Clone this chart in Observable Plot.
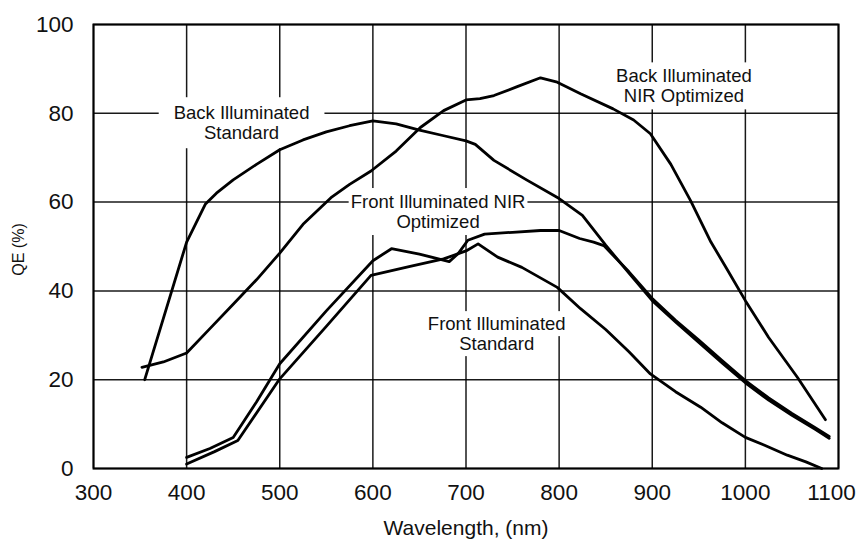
<!DOCTYPE html>
<html>
<head>
<meta charset="utf-8">
<script src="https://cdn.jsdelivr.net/npm/d3@7"></script>
<script src="https://cdn.jsdelivr.net/npm/@observablehq/plot@0.6"></script>
<style>
  html, body { margin: 0; padding: 0; background: #fff; }
</style>
</head>
<body>
<div id="chart"></div>
<script>
// Axis ticks
const xTicks = [300, 400, 500, 600, 700, 800, 900, 1000, 1100];
const yTicks = [0, 20, 40, 60, 80, 100];

// Quantum efficiency curves: wavelength (nm) and QE (%)
const backStdNm = [355, 400, 420, 432, 450, 475, 500, 525, 550, 575, 600, 625, 650, 675, 700, 710, 730, 765, 800, 825, 850, 875, 900, 925, 950, 975, 1000, 1025, 1050, 1075, 1090];
const backStdQE = [20, 51, 59.5, 62, 65, 68.5, 71.8, 74, 75.8, 77.2, 78.3, 77.6, 76.2, 75, 73.8, 73, 69.4, 65, 60.8, 57, 50.3, 44, 37.8, 33, 28.4, 23.8, 19.3, 15.4, 12, 8.8, 6.8];

const backNirNm = [352, 375, 400, 425, 450, 475, 500, 525, 555, 575, 598, 625, 651, 676, 700, 715, 730, 755, 780, 798, 823, 858, 880, 898, 920, 941, 963, 980, 1000, 1025, 1056, 1086];
const backNirQE = [22.8, 24, 26, 31.5, 37, 42.5, 48.5, 55, 61, 64, 67, 71.5, 76.8, 80.6, 83, 83.3, 84, 86, 88, 87, 84.4, 81, 78.5, 75.4, 68.5, 60.4, 51, 45, 37.8, 29.5, 20.5, 11];

const frontNirNm = [400, 425, 450, 475, 500, 550, 600, 620, 650, 682, 692, 702, 720, 750, 780, 800, 822, 837, 848, 875, 900, 925, 950, 975, 1000, 1025, 1050, 1075, 1090];
const frontNirQE = [2.5, 4.5, 7, 15, 23.6, 35.5, 46.8, 49.5, 48.3, 46.6, 48.5, 51.4, 52.8, 53.2, 53.6, 53.6, 51.8, 51, 50.2, 44.3, 38.3, 33.4, 28.9, 24.3, 19.8, 15.9, 12.4, 9.2, 7.2];

const frontStdNm = [400, 430, 455, 500, 550, 598, 640, 676, 700, 713, 734, 760, 798, 823, 850, 875, 898, 925, 952, 975, 1000, 1020, 1045, 1065, 1082];
const frontStdQE = [1, 3.8, 6.3, 20.2, 32, 43.5, 45.5, 47.2, 49, 50.6, 47.6, 45.3, 40.8, 36, 31.3, 26.3, 21.3, 17.3, 13.8, 10.3, 7, 5.3, 3, 1.5, 0];

// Curve labels, anchored at the centre of their first line
const labelText = ["Back Illuminated\nStandard", "Front Illuminated NIR\nOptimized", "Back Illuminated\nNIR Optimized", "Front Illuminated\nStandard"];
const labelX = [459, 670, 934, 733];
const labelY = [80, 60, 88.3, 32.5];

const series = [
  {name: "Back Illuminated Standard", nm: backStdNm, qe: backStdQE},
  {name: "Back Illuminated NIR Optimized", nm: backNirNm, qe: backNirQE},
  {name: "Front Illuminated NIR Optimized", nm: frontNirNm, qe: frontNirQE},
  {name: "Front Illuminated Standard", nm: frontStdNm, qe: frontStdQE}
];
const rows = series.flatMap(s => s.nm.map((x, i) => ({series: s.name, nm: x, qe: s.qe[i]})));

const labelRows = labelText.flatMap((t, i) =>
  t.split("\n").map((line, j) => ({label: i, line: j, text: line, nm: labelX[i], qe: labelY[i]})));
const firstLines = labelRows.filter(d => d.line === 0);
const secondLines = labelRows.filter(d => d.line === 1);

const FONT = "'Liberation Sans', Arial, Helvetica, sans-serif";
const labelStyle = {x: "nm", y: "qe", text: "text", fontSize: 18.5, fontFamily: FONT,
  fill: "#111", textAnchor: "middle", lineAnchor: "middle"};
const tickStyle = {tickSize: 0, fontSize: 22.5, label: null, fill: "#111", tickFormat: d => String(d)};
const lastX = xTicks[xTicks.length - 1];

const chart = Plot.plot({
  width: 862,
  height: 542,
  marginLeft: 93,
  marginRight: 24,
  marginTop: 24,
  marginBottom: 74,
  style: {fontFamily: FONT, fontSize: "22px", color: "#000", background: "#fff"},
  x: {domain: [300, 1100]},
  y: {domain: [0, 100]},
  marks: [
    Plot.gridX(xTicks, {stroke: "#000", strokeOpacity: 0.9, strokeWidth: 1.5}),
    Plot.gridY(yTicks, {stroke: "#000", strokeOpacity: 0.9, strokeWidth: 1.5}),
    Plot.frame({stroke: "#000", strokeWidth: 2}),
    Plot.axisX(xTicks.filter(d => d !== lastX), {...tickStyle, tickPadding: 16}),
    Plot.axisX([lastX], {...tickStyle, tickPadding: 16, dx: -7}),
    Plot.axisY(yTicks, {...tickStyle, tickPadding: 20}),
    Plot.text(["Wavelength, (nm)"], {text: d => d, frameAnchor: "bottom", dy: 60,
      textAnchor: "middle", lineAnchor: "middle", fontSize: 21, fill: "#111"}),
    Plot.text(["QE (%)"], {text: d => d, frameAnchor: "left", dx: -75, dy: 3, rotate: -90,
      textAnchor: "middle", lineAnchor: "middle", fontSize: 16, fill: "#111"}),
    Plot.line(rows, {x: "nm", y: "qe", z: "series", stroke: "#000", strokeWidth: 2.8,
      strokeLinejoin: "round", strokeLinecap: "round"}),
    Plot.text(firstLines, labelStyle),
    Plot.text(secondLines, {...labelStyle, dy: 20})
  ]
});

document.getElementById("chart").append(chart);

// White backing boxes behind the curve labels (interrupting the grid).
// Label texts are rendered first-lines then second-lines, in data order.
const boxPad = [[15, 5], [2, 3], [6, 3], [3, 2]];
const perLine = [false, false, false, true];
const orderedRows = firstLines.concat(secondLines);
const lineTexts = new Set(labelRows.map(d => d.text));
const labelEls = [...chart.querySelectorAll("text")].filter(t => lineTexts.has(t.textContent));
const svgBox = chart.getBoundingClientRect();
const boxes = labelText.map(() => []);
labelEls.forEach((t, k) => {
  const row = orderedRows[k];
  if (!row) return;
  const r = t.getBoundingClientRect();
  boxes[row.label].push({x0: r.left - svgBox.left, x1: r.right - svgBox.left,
    y0: r.top - svgBox.top, y1: r.bottom - svgBox.top});
});
const backing = document.createElementNS("http://www.w3.org/2000/svg", "g");
boxes.forEach((list, i) => {
  if (!list.length) return;
  const [px, py] = boxPad[i];
  const rects = perLine[i] ? list : [{
    x0: d3.min(list, d => d.x0), x1: d3.max(list, d => d.x1),
    y0: d3.min(list, d => d.y0), y1: d3.max(list, d => d.y1)
  }];
  rects.forEach(r => {
    const rect = document.createElementNS("http://www.w3.org/2000/svg", "rect");
    rect.setAttribute("x", r.x0 - px);
    rect.setAttribute("y", r.y0 - py);
    rect.setAttribute("width", r.x1 - r.x0 + 2 * px);
    rect.setAttribute("height", r.y1 - r.y0 + 2 * py);
    rect.setAttribute("fill", "#fff");
    backing.append(rect);
  });
});
const curves = chart.querySelector('g[aria-label="line"]');
chart.insertBefore(backing, curves);
</script>
</body>
</html>
